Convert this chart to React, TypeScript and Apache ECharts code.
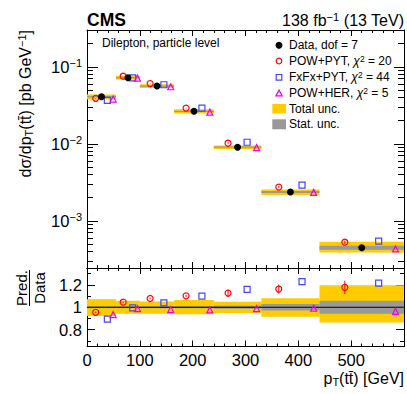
import React, { useEffect, useRef } from 'react';
import * as echarts from 'echarts';

// ---- data ----
const binEdges = [0, 55, 100, 165, 240, 330, 440, 600];
const dataValues = [0.0408, 0.0721, 0.0562, 0.0264, 0.00903, 0.00236, 0.000448];
const ratioPowPyt = [0.955, 1.045, 1.078, 1.102, 1.126, 1.162, 1.177];
const errPowPyt = [0.006, 0.007, 0.008, 0.01, 0.03, 0.04, 0.06];
const ratioFxFxPyt = [0.895, 0.994, 1.039, 1.099, 1.159, 1.228, 1.216];
const ratioPowHer = [0.934, 0.988, 0.979, 0.976, 0.988, 0.991, 0.964];
const totUncUp = [0.072, 0.058, 0.052, 0.065, 0.05, 0.081, 0.196];
const totUncDown = [0.078, 0.058, 0.058, 0.062, 0.052, 0.084, 0.135];
const statUnc = [0.008, 0.008, 0.008, 0.01, 0.014, 0.03, 0.058];
const chi2Values = [20, 44, 5];
const dof = 7;
const logMajorTicks = [0.001, 0.01, 0.1];
const logMinorTicks = [
  0.0003, 0.0004, 0.0005, 0.0006, 0.0007, 0.0008, 0.0009,
  0.002, 0.003, 0.004, 0.005, 0.006, 0.007, 0.008, 0.009,
  0.02, 0.03, 0.04, 0.05, 0.06, 0.07, 0.08, 0.09,
  0.2,
];
const ratioMajorTicks = [0.8, 1, 1.2];
const ratioMinorTicks = [0.7, 0.9, 1.1, 1.3];

const FONT = '"Liberation Sans", Arial, Helvetica, sans-serif';
const YELLOW = '#ffcc00';
const GRAY = '#999999';
const RED = '#ff0000';
const BLUE = '#4444ff';
const MAGENTA = '#ee00ee';

const at = (i: number, f: number) => binEdges[i] + f * (binEdges[i + 1] - binEdges[i]);

const bandRenderer = (fill: string, minH: number) => (params: any, api: any) => {
  const a = api.coord([api.value(0), api.value(3)]);
  const b = api.coord([api.value(1), api.value(2)]);
  let y = a[1];
  let h = b[1] - a[1];
  if (h < minH) {
    y -= (minH - h) / 2;
    h = minH;
  }
  return { type: 'rect', shape: { x: a[0], y, width: b[0] - a[0], height: h }, style: { fill } };
};

const errRenderer = (stroke: string) => (params: any, api: any) => {
  const a = api.coord([api.value(0), api.value(1)]);
  const b = api.coord([api.value(0), api.value(2)]);
  return { type: 'line', shape: { x1: a[0], y1: a[1], x2: b[0], y2: b[1] }, style: { stroke, lineWidth: 1 } };
};

const xAxisDef = (gridIndex: number, position: string, labels: boolean) => ({
  type: 'value',
  gridIndex,
  position,
  min: 0,
  max: 600,
  interval: 100,
  axisLine: { show: true, onZero: false, lineStyle: { color: '#000', width: 1 } },
  axisTick: { show: true, inside: true, length: 6, lineStyle: { color: '#000', width: 1 } },
  minorTick: { show: true, splitNumber: 5, length: 3, lineStyle: { color: '#000', width: 1 } },
  splitLine: { show: false },
  minorSplitLine: { show: false },
  axisLabel: labels
    ? { show: true, color: '#000', fontSize: 16.5, fontFamily: FONT, margin: 5, showMaxLabel: false }
    : { show: false },
});

const supRich = {
  base: { fontSize: 16.5, fontFamily: FONT, color: '#000' },
  sup: { fontSize: 11, fontFamily: FONT, color: '#000', verticalAlign: 'top', padding: [0, 0, 7, 0] },
};

const logAxisDef = (position: string, ticks: number[], len: number, labels: boolean, line: boolean) => ({
  type: 'log',
  logBase: 10,
  gridIndex: 0,
  position,
  min: 0.000244,
  max: 0.3,
  axisLine: { show: line, onZero: false, lineStyle: { color: '#000', width: 1 } },
  axisTick: { show: true, inside: true, length: len, customValues: ticks, lineStyle: { color: '#000', width: 1 } },
  splitLine: { show: false },
  axisLabel: labels
    ? {
        show: true,
        customValues: ticks,
        margin: 5,
        formatter: (v: number) => {
          const e = Math.round(Math.log10(v));
          return '{base|10}{sup|' + (e < 0 ? '\u2212' : '') + Math.abs(e) + '}';
        },
        rich: supRich,
      }
    : { show: false },
});

const ratioAxisDef = (position: string, ticks: number[], len: number, labels: boolean, line: boolean) => ({
  type: 'value',
  gridIndex: 1,
  position,
  min: 0.65,
  max: 1.35,
  axisLine: { show: line, onZero: false, lineStyle: { color: '#000', width: 1 } },
  axisTick: { show: true, inside: true, length: len, customValues: ticks, lineStyle: { color: '#000', width: 1 } },
  splitLine: { show: false },
  axisLabel: labels
    ? {
        show: true,
        customValues: ticks,
        margin: 5,
        color: '#000',
        fontSize: 16.5,
        fontFamily: FONT,
        formatter: (v: number) => String(+v.toFixed(1)),
      }
    : { show: false },
});

export default function App() {
  const ref = useRef<HTMLDivElement>(null);

  useEffect(() => {
    if (!ref.current) return;
    const chart = echarts.init(ref.current, null, { renderer: 'svg' });

    const n = dataValues.length;
    const idx = Array.from({ length: n }, (_, i) => i);

    const mainTot = idx.map((i) => [binEdges[i], binEdges[i + 1], dataValues[i] * (1 - totUncDown[i]), dataValues[i] * (1 + totUncUp[i])]);
    const mainStat = idx.map((i) => [binEdges[i], binEdges[i + 1], dataValues[i] * (1 - statUnc[i]), dataValues[i] * (1 + statUnc[i])]);
    const ratioTot = idx.map((i) => [binEdges[i], binEdges[i + 1], 1 - totUncDown[i], 1 + totUncUp[i]]);
    const ratioStat = idx.map((i) => [binEdges[i], binEdges[i + 1], 1 - statUnc[i], 1 + statUnc[i]]);

    const markerSeries = (gridMain: boolean) => {
      const xi = gridMain ? 0 : 2;
      const yi = gridMain ? 0 : 4;
      const scale = (i: number) => (gridMain ? dataValues[i] : 1);
      return [
        {
          type: 'custom', xAxisIndex: xi, yAxisIndex: yi, z: 4, silent: true,
          encode: { x: 0, y: [1, 2] },
          renderItem: errRenderer(RED),
          data: idx.map((i) => [at(i, 0.3), (ratioPowPyt[i] - errPowPyt[i]) * scale(i), (ratioPowPyt[i] + errPowPyt[i]) * scale(i)]),
        },
        {
          type: 'scatter', name: 'POW+PYT', xAxisIndex: xi, yAxisIndex: yi, z: 5, silent: true,
          symbol: 'circle', symbolSize: 6,
          itemStyle: { color: 'rgba(0,0,0,0)', borderColor: RED, borderWidth: 1.2, opacity: 1 },
          data: idx.map((i) => [at(i, 0.3), ratioPowPyt[i] * scale(i)]),
        },
        {
          type: 'scatter', name: 'FxFx+PYT', xAxisIndex: xi, yAxisIndex: yi, z: 5, silent: true,
          symbol: 'rect', symbolSize: 6,
          itemStyle: { color: 'rgba(0,0,0,0)', borderColor: BLUE, borderWidth: 1.2, opacity: 1 },
          data: idx.map((i) => [at(i, 0.7), ratioFxFxPyt[i] * scale(i)]),
        },
        {
          type: 'scatter', name: 'POW+HER', xAxisIndex: xi, yAxisIndex: yi, z: 5, silent: true,
          symbol: 'triangle', symbolSize: 6,
          itemStyle: { color: 'rgba(0,0,0,0)', borderColor: MAGENTA, borderWidth: 1.2, opacity: 1 },
          data: idx.map((i) => [at(i, 0.9), ratioPowHer[i] * scale(i)]),
        },
      ];
    };

    const legendY = [45.3, 61, 77.3, 93.3, 108.7, 124.3];
    const legendTexts = [
      'Data, dof = ' + dof,
      'POW+PYT, {i|\u03c7}{s|2} = ' + chi2Values[0],
      'FxFx+PYT, {i|\u03c7}{s|2} = ' + chi2Values[1],
      'POW+HER, {i|\u03c7}{s|2} = ' + chi2Values[2],
      'Total unc.',
      'Stat. unc.',
    ];
    const legendRich = {
      i: { fontSize: 12, fontFamily: FONT, fontStyle: 'italic', color: '#000' },
      s: { fontSize: 8.5, fontFamily: FONT, color: '#000', verticalAlign: 'top', padding: [0, 0, 5, 0] },
    };
    const lx = 279;

    const graphic: any[] = [
      { type: 'text', x: 87, y: 20, style: { text: 'CMS', fontSize: 17.5, fontWeight: 'bold', fontFamily: FONT, fill: '#000', align: 'left', verticalAlign: 'middle' } },
      {
        type: 'text', x: 404, y: 20,
        style: {
          text: '138 fb{s|\u22121} (13 TeV)', fontSize: 16, fontFamily: FONT, fill: '#000', align: 'right', verticalAlign: 'middle',
          rich: { s: { fontSize: 11, fontFamily: FONT, fill: '#000', verticalAlign: 'top', padding: [0, 0, 7, 0] } },
        },
      },
      { type: 'text', x: 102, y: 43, style: { text: 'Dilepton, particle level', fontSize: 12, fontFamily: FONT, fill: '#000', align: 'left', verticalAlign: 'middle' } },
      // y title
      {
        type: 'text', x: 25, y: 30, rotation: Math.PI / 2,
        style: {
          text: 'd\u03c3/dp{sub|T}(tt\u0304) [pb GeV{sup|\u22121}]', fontSize: 16, fontFamily: FONT, fill: '#000', align: 'right', verticalAlign: 'middle',
          rich: {
            sub: { fontSize: 11, fontFamily: FONT, fill: '#000', verticalAlign: 'bottom', padding: [7, 0, 0, 0] },
            sup: { fontSize: 11, fontFamily: FONT, fill: '#000', verticalAlign: 'top', padding: [0, 0, 7, 0] },
          },
        },
      },
      // ratio title
      { type: 'text', x: 21, y: 288, rotation: Math.PI / 2, style: { text: 'Pred.', fontSize: 15, fontFamily: FONT, fill: '#000', align: 'center', verticalAlign: 'middle' } },
      { type: 'line', shape: { x1: 29.5, y1: 270, x2: 29.5, y2: 306 }, style: { stroke: '#000', lineWidth: 1 } },
      { type: 'text', x: 39, y: 288, rotation: Math.PI / 2, style: { text: 'Data', fontSize: 15, fontFamily: FONT, fill: '#000', align: 'center', verticalAlign: 'middle' } },
      // x title
      {
        type: 'text', x: 404, y: 378,
        style: {
          text: 'p{sub|T}(tt\u0304) [GeV]', fontSize: 16, fontFamily: FONT, fill: '#000', align: 'right', verticalAlign: 'middle',
          rich: { sub: { fontSize: 11, fontFamily: FONT, fill: '#000', verticalAlign: 'bottom', padding: [7, 0, 0, 0] } },
        },
      },
      // legend markers
      { type: 'circle', shape: { cx: lx, cy: legendY[0], r: 3.5 }, style: { fill: '#000' } },
      { type: 'circle', shape: { cx: lx, cy: legendY[1], r: 2.8 }, style: { fill: 'none', stroke: RED, lineWidth: 1.2 } },
      { type: 'rect', shape: { x: lx - 2.8, y: legendY[2] - 2.8, width: 5.6, height: 5.6 }, style: { fill: 'none', stroke: BLUE, lineWidth: 1.2 } },
      { type: 'polygon', shape: { points: [[lx, legendY[3] - 3.2], [lx + 3.2, legendY[3] + 2.6], [lx - 3.2, legendY[3] + 2.6]] }, style: { fill: 'none', stroke: MAGENTA, lineWidth: 1.2 } },
      { type: 'rect', shape: { x: 272.3, y: legendY[4] - 4.7, width: 13.7, height: 9.4 }, style: { fill: YELLOW } },
      { type: 'rect', shape: { x: 272.3, y: legendY[5] - 5, width: 13.7, height: 10 }, style: { fill: GRAY } },
      ...legendTexts.map((t, k) => ({
        type: 'text', x: 289, y: legendY[k],
        style: { text: t, fontSize: 12, fontFamily: FONT, fill: '#000', align: 'left', verticalAlign: 'middle', rich: legendRich },
      })),
    ];

    const option: any = {
      animation: false,
      backgroundColor: '#fff',
      grid: [
        { left: 87, top: 30, width: 317, height: 238, containLabel: false },
        { left: 87, top: 268, width: 317, height: 78.5, containLabel: false },
      ],
      xAxis: [
        xAxisDef(0, 'bottom', false),
        xAxisDef(0, 'top', false),
        xAxisDef(1, 'bottom', true),
        xAxisDef(1, 'top', false),
      ],
      yAxis: [
        logAxisDef('left', logMajorTicks, 11, true, true),
        logAxisDef('right', logMajorTicks, 10, false, true),
        logAxisDef('left', logMinorTicks, 6, false, false),
        logAxisDef('right', logMinorTicks, 6, false, false),
        ratioAxisDef('left', ratioMajorTicks, 8, true, true),
        ratioAxisDef('right', ratioMajorTicks, 8, false, true),
        ratioAxisDef('left', ratioMinorTicks, 4, false, false),
        ratioAxisDef('right', ratioMinorTicks, 4, false, false),
      ],
      series: [
        { type: 'custom', name: 'Total unc.', xAxisIndex: 0, yAxisIndex: 0, z: 1, silent: true, encode: { x: [0, 1], y: [2, 3] }, renderItem: bandRenderer(YELLOW, 0), data: mainTot },
        { type: 'custom', name: 'Stat. unc.', xAxisIndex: 0, yAxisIndex: 0, z: 2, silent: true, encode: { x: [0, 1], y: [2, 3] }, renderItem: bandRenderer(GRAY, 1.3), data: mainStat },
        {
          type: 'scatter', name: 'Data', xAxisIndex: 0, yAxisIndex: 0, z: 6, silent: true,
          symbol: 'circle', symbolSize: 7, itemStyle: { color: '#000', opacity: 1 },
          data: idx.map((i) => [at(i, 0.5), dataValues[i]]),
        },
        ...markerSeries(true),
        { type: 'custom', name: 'Total unc. ratio', xAxisIndex: 2, yAxisIndex: 4, z: 1, silent: true, encode: { x: [0, 1], y: [2, 3] }, renderItem: bandRenderer(YELLOW, 0), data: ratioTot },
        { type: 'custom', name: 'Stat. unc. ratio', xAxisIndex: 2, yAxisIndex: 4, z: 2, silent: true, encode: { x: [0, 1], y: [2, 3] }, renderItem: bandRenderer(GRAY, 0), data: ratioStat },
        {
          type: 'line', xAxisIndex: 2, yAxisIndex: 4, z: 3, silent: true, showSymbol: false, symbol: 'none',
          lineStyle: { color: '#000', width: 1 }, data: [[binEdges[0], 1], [binEdges[n], 1]],
        },
        ...markerSeries(false),
      ],
      graphic,
    };

    chart.setOption(option);
    return () => chart.dispose();
  }, []);

  return <div ref={ref} style={{ position: 'absolute', left: 0, top: 0, width: 407, height: 394 }} />;
}
